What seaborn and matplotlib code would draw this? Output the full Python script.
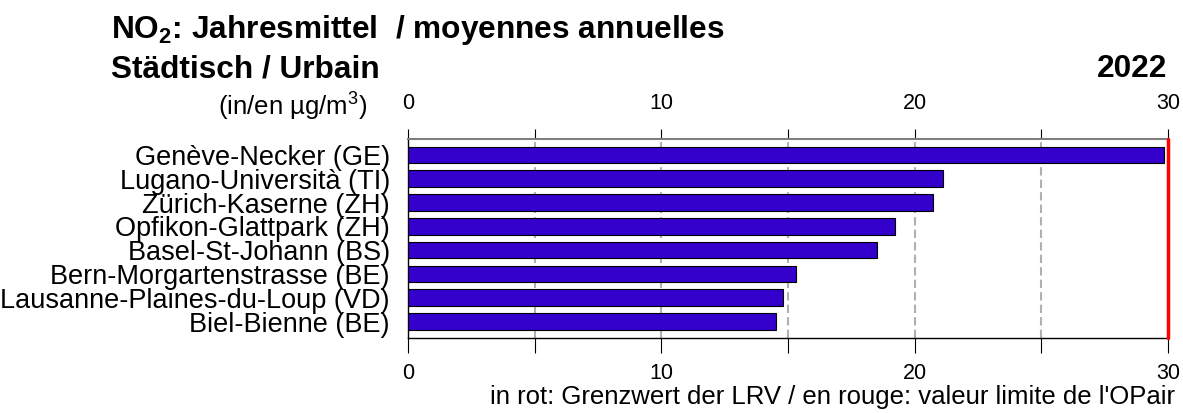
import matplotlib
matplotlib.use('Agg')
import matplotlib.pyplot as plt
import seaborn as sns
import pandas as pd
from matplotlib.ticker import MultipleLocator

stations = ['Genève-Necker (GE)', 'Lugano-Università (TI)', 'Zürich-Kaserne (ZH)',
            'Opfikon-Glattpark (ZH)', 'Basel-St-Johann (BS)', 'Bern-Morgartenstrasse (BE)',
            'Lausanne-Plaines-du-Loup (VD)', 'Biel-Bienne (BE)']
no2 = [29.84, 21.11, 20.73, 19.23, 18.53, 15.32, 14.82, 14.52]
limit = 30
xticks_major = [0, 10, 20, 30]

df = pd.DataFrame({'station': stations, 'no2': no2})

sns.set_style('white')
plt.rcParams['font.family'] = ['Liberation Sans', 'DejaVu Sans']
plt.rcParams['mathtext.fontset'] = 'custom'
plt.rcParams['mathtext.rm'] = 'Liberation Sans'
plt.rcParams['mathtext.bf'] = 'Liberation Sans:bold'
plt.rcParams['text.color'] = 'black'
plt.rcParams['xtick.labelcolor'] = 'black'
plt.rcParams['ytick.labelcolor'] = 'black'

fig = plt.figure(figsize=(11.83, 4.13), dpi=100)
ax = fig.add_axes([408 / 1183, 1 - 338 / 413, 760 / 1183, 199 / 413])

sns.barplot(data=df, x='no2', y='station', orient='h', color='#3300cc', saturation=1,
            edgecolor='black', linewidth=0.8, width=0.7, ax=ax, zorder=3)

ax.set_xlim(0, 30)
ax.set_ylim(7.69, -0.67)
ax.set_xticks(xticks_major)
ax.xaxis.set_minor_locator(MultipleLocator(5))
ax.tick_params(axis='x', which='both', top=True, bottom=True, labeltop=True, labelbottom=True,
               direction='out', width=0.8, color='black', labelsize=15.5)
ax.xaxis.set_tick_params(which='both', length=11, pad=7)
for t in ax.xaxis.get_major_ticks() + ax.xaxis.get_minor_ticks():
    t.tick2line.set_markersize(7)
ax.tick_params(axis='y', length=0, labelsize=19.5, pad=13)
ax.set_xlabel('')
ax.set_ylabel('')

for v in [5, 10, 15, 20, 25]:
    ax.axvline(v, color='#b0b0b0', linestyle=(0, (4, 2)), linewidth=1.5, zorder=1)
ax.axvline(limit, color='red', linewidth=2.5, zorder=4, clip_on=False)

ax.spines['right'].set_visible(False)
ax.spines['top'].set_color('#808080')
ax.spines['top'].set_linewidth(1.5)
ax.spines['bottom'].set_color('black')
ax.spines['left'].set_color('black')
for s in ['bottom', 'left']:
    ax.spines[s].set_linewidth(1.0)

fig.text(111 / 1183, 1 - 38 / 413, r'NO$_\mathbf{2}$: Jahresmittel  / moyennes annuelles',
         fontsize=22.8, fontweight='bold', va='baseline', ha='left')
fig.text(111 / 1183, 1 - 77 / 413, 'Städtisch / Urbain',
         fontsize=22.8, fontweight='bold', va='baseline', ha='left')
fig.text(1167 / 1183, 1 - 77 / 413, '2022',
         fontsize=22.8, fontweight='bold', va='baseline', ha='right')
fig.text(367 / 1183, 1 - 106 / 413, r'(in/en µg/m$^3$)', fontsize=18.5, va='center', ha='right')
fig.text(1175 / 1183, 1 - 397 / 413, "in rot: Grenzwert der LRV / en rouge: valeur limite de l'OPair",
         fontsize=18.5, va='center', ha='right')

fig.savefig('out.png', dpi=100)
